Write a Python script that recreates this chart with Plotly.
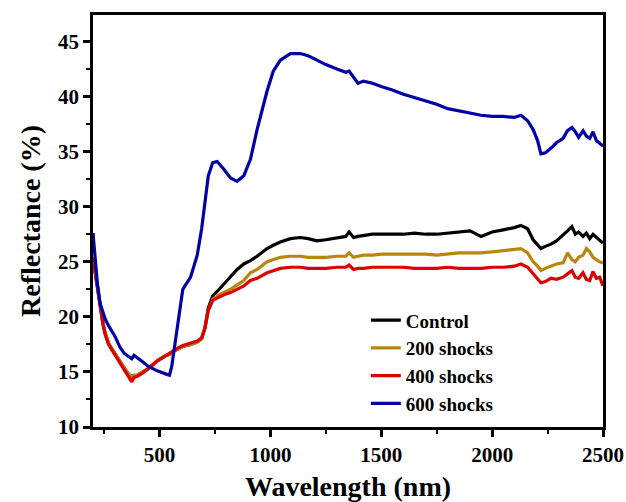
import plotly.graph_objects as go

# Diffuse reflectance spectra of samples exposed to shock waves
wavelength = [200, 210, 220, 232, 245, 255, 270, 285, 300, 320, 340, 360, 375, 385, 400,
              425, 450, 490, 530, 545, 555, 565, 585, 605, 640, 670, 690, 705, 720, 740,
              760, 790, 820, 850, 880, 910, 940, 985, 1013, 1045, 1090, 1135, 1170, 1210,
              1250, 1300, 1340, 1355, 1375, 1395, 1420, 1460, 1500, 1550, 1600, 1650, 1700,
              1750, 1800, 1850, 1900, 1950, 2000, 2050, 2100, 2130, 2160, 2185, 2205, 2220,
              2240, 2265, 2290, 2320, 2340, 2360, 2375, 2390, 2410, 2425, 2440, 2455, 2470,
              2485, 2500]

control = [25.4, 24.1, 22.8, 20.9, 19.4, 18.5, 17.6, 17.1, 16.6, 16.0, 15.4, 14.8, 14.5, 14.6, 14.7,
           15.0, 15.3, 16.0, 16.5, 16.6, 16.7, 16.9, 17.1, 17.3, 17.5, 17.7, 18.0, 19.0, 20.8, 21.9,
           22.3, 23.0, 23.6, 24.3, 24.8, 25.1, 25.5, 26.2, 26.5, 26.8, 27.1, 27.2, 27.1, 26.9,
           27.0, 27.2, 27.3, 27.7, 27.2, 27.3, 27.4, 27.5, 27.5, 27.5, 27.5, 27.6, 27.5,
           27.5, 27.6, 27.7, 27.8, 27.3, 27.7, 27.9, 28.1, 28.3, 28.0, 27.0, 26.5, 26.2,
           26.4, 26.6, 26.9, 27.4, 27.8, 28.2, 27.5, 27.7, 27.3, 27.6, 27.1, 27.5, 27.2,
           27.0, 26.7]

shocks_200 = [25.4, 24.1, 22.8, 20.9, 19.4, 18.5, 17.6, 17.1, 16.6, 16.0, 15.4, 14.8, 14.6, 14.7, 14.7,
              15.0, 15.3, 16.0, 16.5, 16.6, 16.7, 16.9, 17.1, 17.3, 17.5, 17.7, 18.0, 19.0, 20.6, 21.6,
              21.9, 22.2, 22.5, 22.9, 23.3, 24.0, 24.3, 25.0, 25.2, 25.4, 25.5, 25.5, 25.4, 25.4,
              25.4, 25.5, 25.5, 25.8, 25.4, 25.5, 25.6, 25.6, 25.7, 25.7, 25.7, 25.7, 25.7,
              25.6, 25.7, 25.8, 25.8, 25.8, 25.9, 26.0, 26.1, 26.2, 25.8, 25.0, 24.6, 24.2,
              24.4, 24.6, 24.8, 24.9, 25.8, 25.2, 25.0, 25.4, 25.6, 26.2, 25.9, 25.4, 25.2,
              25.0, 24.9]

shocks_400 = [25.3, 24.0, 22.7, 20.8, 19.3, 18.4, 17.5, 17.0, 16.5, 15.9, 15.2, 14.6, 14.1, 14.5, 14.6,
              14.9, 15.3, 16.0, 16.5, 16.7, 16.8, 17.0, 17.2, 17.4, 17.6, 17.8, 18.1, 19.0, 20.6, 21.5,
              21.7, 22.0, 22.2, 22.5, 22.8, 23.3, 23.5, 24.0, 24.2, 24.4, 24.5, 24.5, 24.4, 24.4,
              24.4, 24.5, 24.5, 24.7, 24.3, 24.4, 24.4, 24.5, 24.5, 24.5, 24.5, 24.4, 24.4,
              24.4, 24.5, 24.4, 24.4, 24.4, 24.5, 24.5, 24.6, 24.8, 24.5, 23.9, 23.5, 23.1,
              23.2, 23.5, 23.4, 23.6, 23.9, 24.2, 23.6, 23.5, 24.0, 23.4, 23.3, 24.1, 23.5,
              23.6, 22.8]

shocks_600 = [27.6, 25.2, 23.0, 21.2, 20.3, 19.8, 19.2, 18.7, 18.2, 17.3, 16.7, 16.4, 16.2, 16.5, 16.3,
              15.9, 15.5, 15.1, 14.8, 14.7, 15.5, 17.0, 19.8, 22.5, 23.6, 25.6, 28.0, 30.4, 32.8, 34.0,
              34.1, 33.4, 32.6, 32.3, 32.8, 34.3, 37.0, 40.5, 42.3, 43.3, 43.9, 43.9, 43.7, 43.3,
              42.9, 42.5, 42.2, 42.3, 41.7, 41.2, 41.4, 41.2, 40.9, 40.6, 40.2, 39.9, 39.6,
              39.3, 38.9, 38.7, 38.5, 38.3, 38.2, 38.2, 38.1, 38.3, 37.8, 37.0, 36.0, 34.8,
              34.9, 35.3, 35.8, 36.2, 36.9, 37.2, 36.8, 36.3, 36.9, 36.4, 36.2, 36.8, 36.0,
              35.7, 35.5]

series_names = ["Control", "200 shocks", "400 shocks", "600 shocks"]
series_values = [control, shocks_200, shocks_400, shocks_600]
series_colors = ["#000000", "#b8860b", "#dd0000", "#0000a8"]

x_ticks = [500, 1000, 1500, 2000, 2500]
y_ticks = [10, 15, 20, 25, 30, 35, 40, 45]

FONT = "Liberation Serif"

fig = go.Figure()
for name, vals, col in zip(series_names, series_values, series_colors):
    fig.add_trace(go.Scatter(
        x=wavelength, y=vals, mode="lines", name=f"<b>{name}</b>",
        line=dict(color=col, width=3.2),
    ))

axis_common = dict(
    showline=True, linewidth=2.5, linecolor="black", mirror=True,
    ticks="outside", ticklen=7, tickwidth=2.5, tickcolor="black",
    showgrid=False, zeroline=False, automargin=False,
    tickfont=dict(family=FONT, size=21),
)

fig.update_xaxes(
    range=[200, 2500], tickvals=x_ticks, ticktext=[f"<b>{v}</b>" for v in x_ticks],
    minor=dict(ticks="outside", ticklen=4, tickwidth=2, tickcolor="black", dtick=250, tick0=0),
    title=dict(text="<b>Wavelength (nm)</b>", font=dict(family=FONT, size=28), standoff=12),
    **axis_common,
)
fig.update_yaxes(
    range=[10, 47.4], tickvals=y_ticks, ticktext=[f"<b>{v}</b>" for v in y_ticks],
    minor=dict(ticks="outside", ticklen=4, tickwidth=2, tickcolor="black", dtick=2.5, tick0=0),
    title=dict(text="<b>Reflectance (%)</b>", font=dict(family=FONT, size=28), standoff=10),
    **axis_common,
)

fig.update_layout(
    width=626, height=502,
    margin=dict(l=93, r=23, t=15, b=75),
    paper_bgcolor="white", plot_bgcolor="white",
    font=dict(family=FONT, color="black"),
    showlegend=True,
    legend=dict(
        x=0.535, y=0.305, xanchor="left", yanchor="top",
        bgcolor="rgba(0,0,0,0)", borderwidth=0,
        font=dict(family=FONT, size=19),
        tracegroupgap=0,
    ),
)

fig.write_html("out.html")
